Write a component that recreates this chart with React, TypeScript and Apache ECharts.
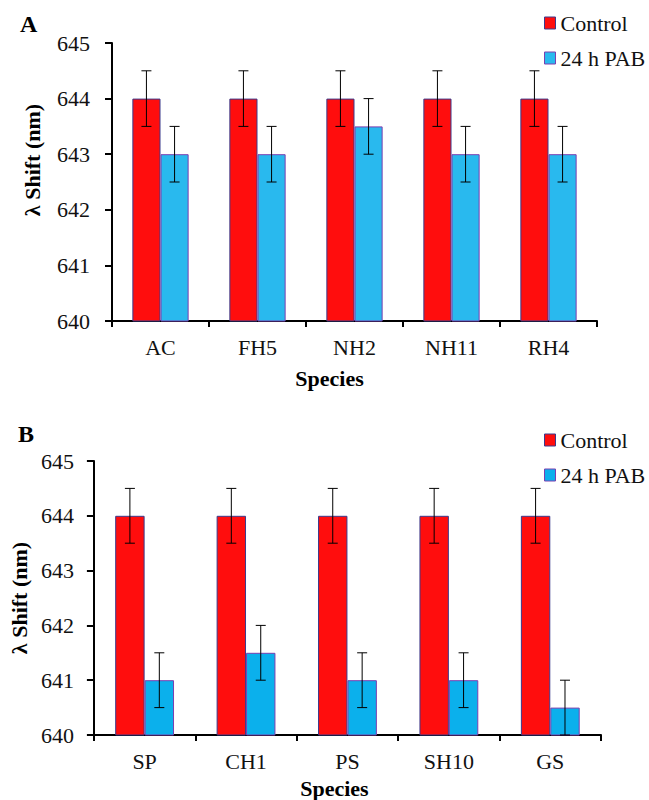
import React, { useEffect, useRef } from "react";
import * as echarts from "echarts";

const speciesA = ["AC", "FH5", "NH2", "NH11", "RH4"];
const controlA = [644, 644, 644, 644, 644];
const pabA = [643, 643, 643.5, 643, 643];
const controlErrA = [0.5, 0.5, 0.5, 0.5, 0.5];
const pabErrA = [0.5, 0.5, 0.5, 0.5, 0.5];

const speciesB = ["SP", "CH1", "PS", "SH10", "GS"];
const controlB = [644, 644, 644, 644, 644];
const pabB = [641, 641.5, 641, 641, 640.5];
const controlErrB = [0.5, 0.5, 0.5, 0.5, 0.5];
const pabErrB = [0.5, 0.5, 0.5, 0.5, 0.5];

const yTicks = [640, 641, 642, 643, 644, 645];

const FONT = "'Liberation Serif', 'Times New Roman', serif";
const RED = "#FF0D0D";
const RED_BORDER = "#3A3A8C";
const BLUE_A = "#29B9EE";
const BLUE_B = "#0BB0EC";
const BLUE_BORDER = "#7A3FB0";
const CAT_GAP = 0.42;

function errSeries(
  name: string,
  values: number[],
  errs: number[],
  side: number,
  axisIndex: number
) {
  return {
    type: "custom",
    name: name + "-err",
    xAxisIndex: axisIndex,
    yAxisIndex: axisIndex,
    silent: true,
    z: 10,
    data: values.map((v, i) => [i, v, errs[i]]),
    renderItem: (params: any, api: any) => {
      const i = api.value(0);
      const v = api.value(1);
      const e = api.value(2);
      const band = api.size([1, 0])[0];
      const bw = (band * (1 - CAT_GAP)) / 2;
      const hi = api.coord([i, v + e]);
      const lo = api.coord([i, Math.max(640, v - e)]);
      const x = hi[0] + (side * bw) / 2;
      const cap = 5;
      const style = { stroke: "#000", lineWidth: 1 };
      return {
        type: "group",
        children: [
          { type: "line", shape: { x1: x, y1: hi[1], x2: x, y2: lo[1] }, style },
          { type: "line", shape: { x1: x - cap, y1: hi[1], x2: x + cap, y2: hi[1] }, style },
          { type: "line", shape: { x1: x - cap, y1: lo[1], x2: x + cap, y2: lo[1] }, style },
        ],
      };
    },
  };
}

function xAxisDef(cats: string[], gridIndex: number, nameGap: number, shiftLeft: number) {
  return {
    type: "category",
    gridIndex,
    data: cats,
    name: "Species",
    nameLocation: "middle",
    nameGap,
    nameTextStyle: {
      fontFamily: FONT,
      fontSize: 22,
      fontWeight: "bold",
      color: "#000",
      padding: [0, shiftLeft * 2, 0, 0],
    },
    axisLine: { show: true, lineStyle: { color: "#000", width: 2 } },
    axisTick: { show: true, length: 6, lineStyle: { color: "#000", width: 2 }, alignWithLabel: false },
    axisLabel: { fontFamily: FONT, fontSize: 22, color: "#111", margin: 15 },
    splitLine: { show: false },
  };
}

function yAxisDef(gridIndex: number, nameGap: number, labelMargin: number, shiftUp: number) {
  return {
    type: "value",
    gridIndex,
    min: yTicks[0],
    max: yTicks[yTicks.length - 1],
    interval: 1,
    name: "λ Shift (nm)",
    nameLocation: "middle",
    nameGap,
    nameRotate: 90,
    nameTextStyle: {
      fontFamily: FONT,
      fontSize: 22,
      fontWeight: "bold",
      color: "#000",
      padding: [0, 0, 0, shiftUp * 2],
    },
    axisLine: { show: true, lineStyle: { color: "#000", width: 2 } },
    axisTick: { show: true, length: 7, lineStyle: { color: "#000", width: 2 } },
    axisLabel: { fontFamily: FONT, fontSize: 22, color: "#111", margin: labelMargin },
    splitLine: { show: false },
  };
}

function barSeries(
  name: string,
  values: number[],
  color: string,
  border: string,
  axisIndex: number
) {
  return {
    type: "bar",
    name,
    xAxisIndex: axisIndex,
    yAxisIndex: axisIndex,
    data: values,
    barGap: "0%",
    barCategoryGap: CAT_GAP * 100 + "%",
    itemStyle: { color, borderColor: border, borderWidth: 1 },
    emphasis: { disabled: true },
  };
}

function legendDef(top: number, blue: string) {
  return {
    orient: "vertical",
    left: 544,
    top,
    padding: 0,
    itemWidth: 11,
    itemHeight: 12,
    itemGap: 13,
    selectedMode: false,
    textStyle: { fontFamily: FONT, fontSize: 22, color: "#111", lineHeight: 22 },
    data: [
      { name: "Control", icon: "rect", itemStyle: { color: RED, borderColor: RED_BORDER, borderWidth: 1 } },
      { name: "24 h PAB", icon: "rect", itemStyle: { color: blue, borderColor: BLUE_BORDER, borderWidth: 1 } },
    ],
  };
}

export default function App() {
  const ref = useRef<HTMLDivElement>(null);
  useEffect(() => {
    if (!ref.current) return;
    const chart = echarts.init(ref.current, null, { renderer: "svg" });
    chart.setOption({
      animation: false,
      backgroundColor: "#fff",
      grid: [
        { left: 112, top: 43, width: 485, height: 278 },
        { left: 93, top: 461, width: 508, height: 279 },
      ],
      xAxis: [xAxisDef(speciesA, 0, 46, 25), xAxisDef(speciesB, 1, 42, 13)],
      yAxis: [yAxisDef(0, 69, 22, 22), yAxisDef(1, 62, 20, 0)],
      legend: [legendDef(12, BLUE_A), legendDef(429, BLUE_B)],
      series: [
        barSeries("Control", controlA, RED, RED_BORDER, 0),
        barSeries("24 h PAB", pabA, BLUE_A, BLUE_BORDER, 0),
        errSeries("Control", controlA, controlErrA, -1, 0),
        errSeries("24 h PAB", pabA, pabErrA, 1, 0),
        barSeries("Control", controlB, RED, RED_BORDER, 1),
        barSeries("24 h PAB", pabB, BLUE_B, BLUE_BORDER, 1),
        errSeries("Control", controlB, controlErrB, -1, 1),
        errSeries("24 h PAB", pabB, pabErrB, 1, 1),
      ],
      graphic: [
        {
          type: "text",
          left: 20,
          top: 12,
          style: { text: "A", fontFamily: FONT, fontSize: 24, fontWeight: "bold", fill: "#000" },
        },
        {
          type: "text",
          left: 18,
          top: 422,
          style: { text: "B", fontFamily: FONT, fontSize: 24, fontWeight: "bold", fill: "#000" },
        },
      ],
    });
    return () => chart.dispose();
  }, []);
  return (
    <div
      ref={ref}
      style={{ position: "fixed", left: 0, top: 0, width: 649, height: 800 }}
    />
  );
}
